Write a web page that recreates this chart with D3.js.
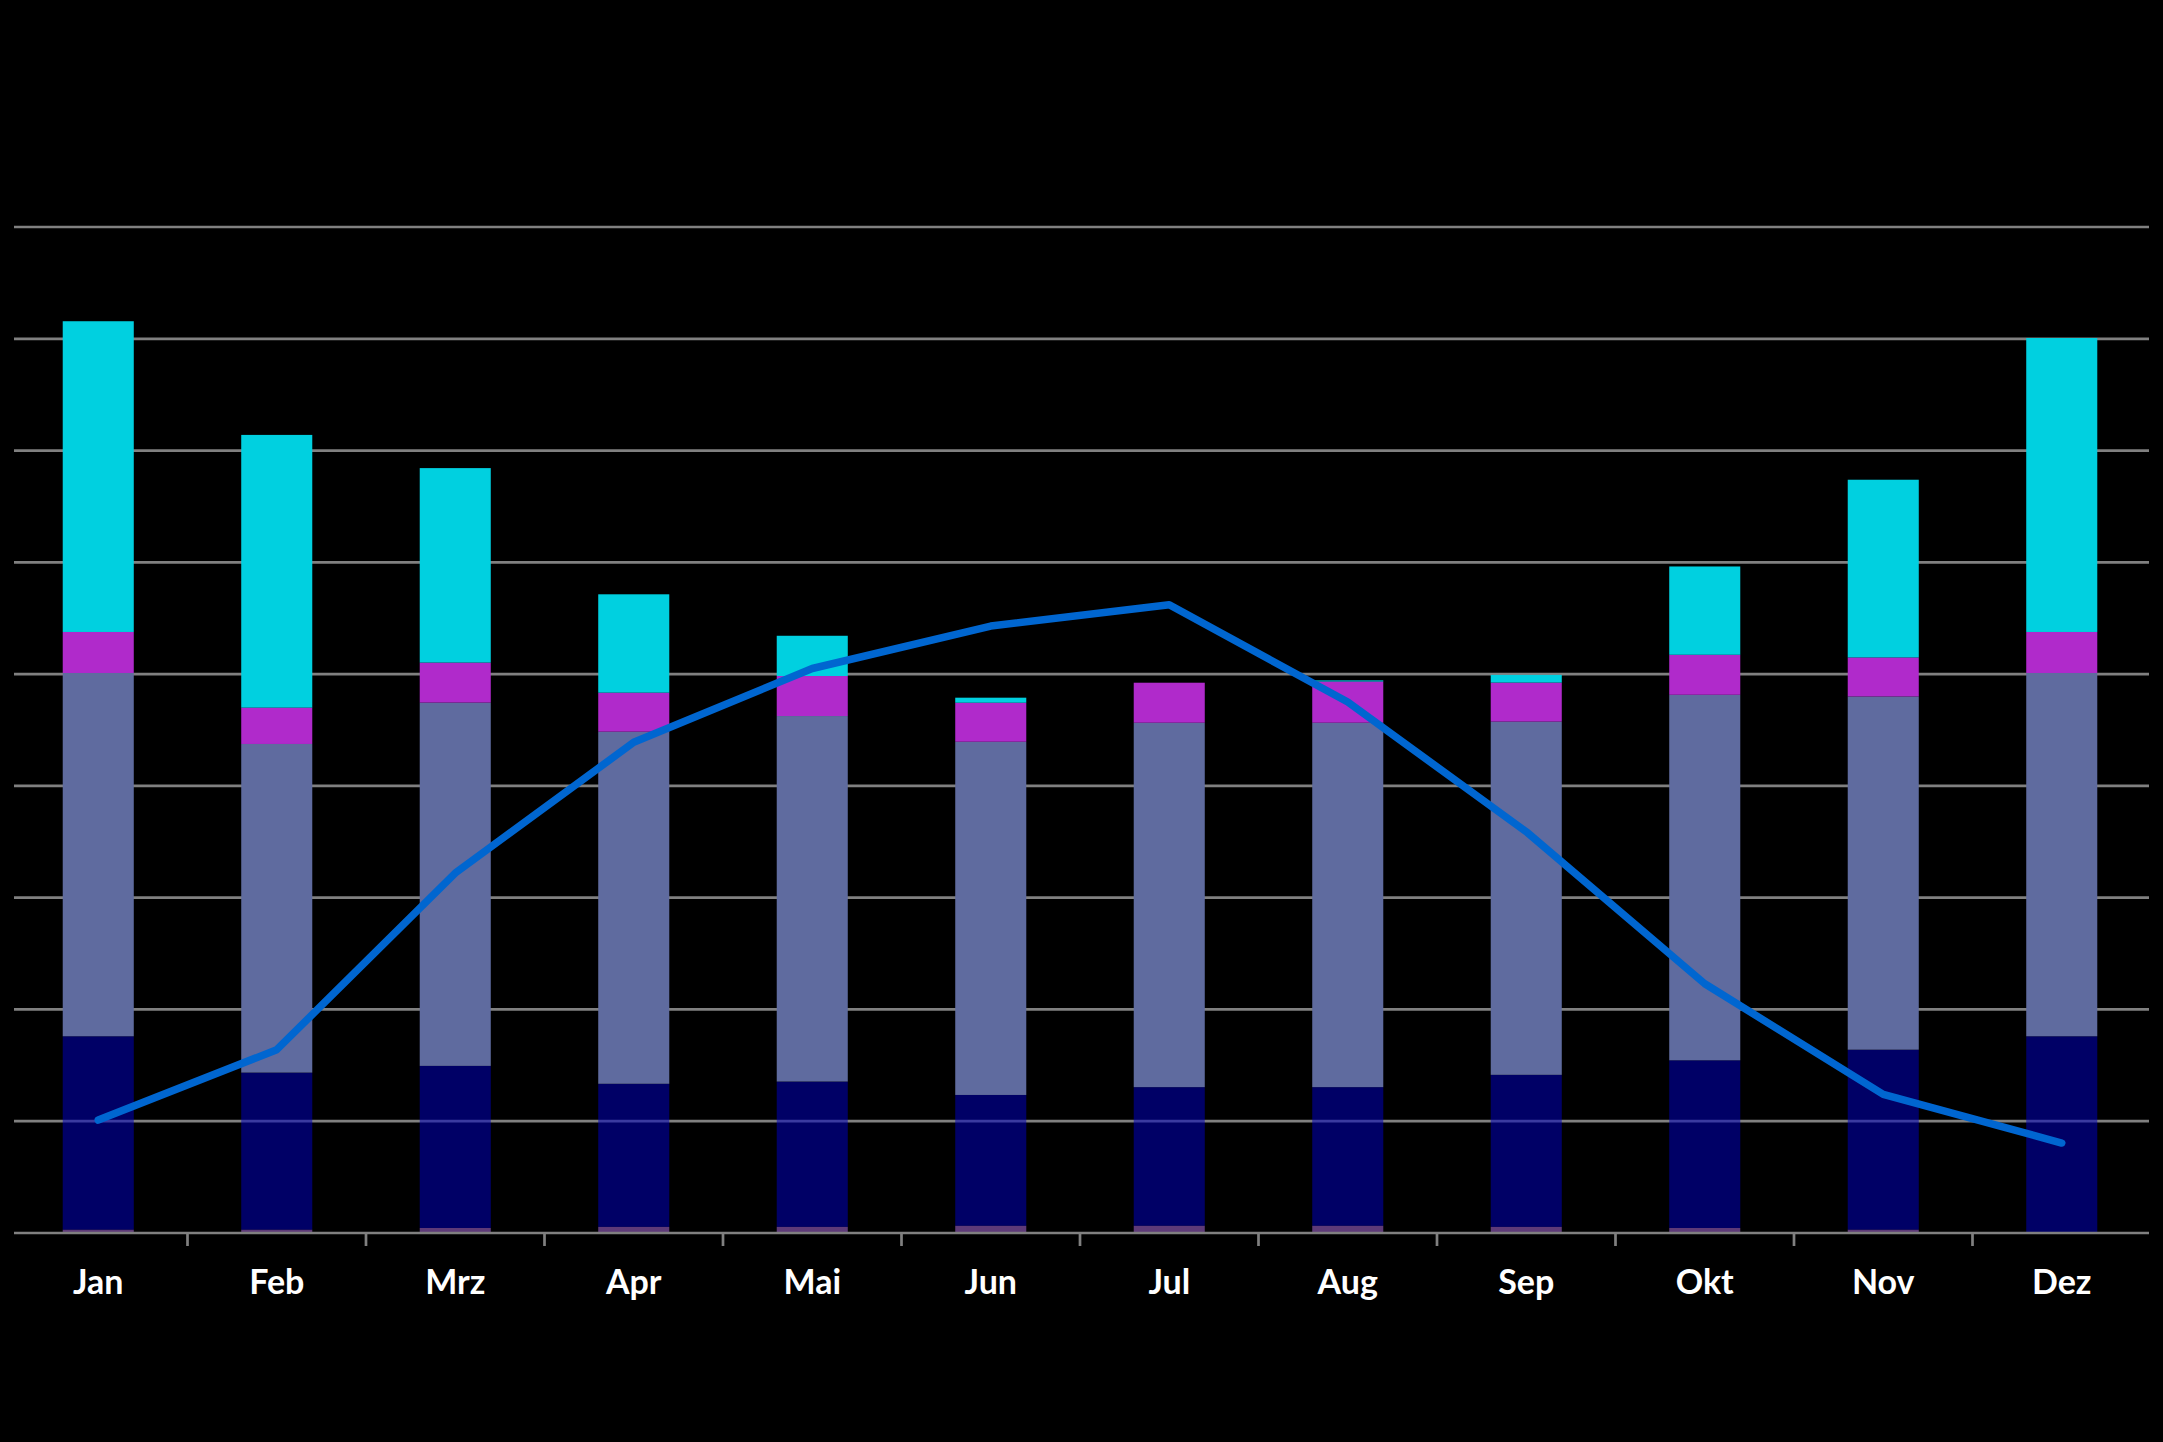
<!DOCTYPE html>
<html>
<head>
<meta charset="utf-8">
<script src="https://cdn.jsdelivr.net/npm/d3@7"></script>
<style>
    body { margin: 0; background: #000; }
    svg { display: block; }
</style>
</head>
<body>
<svg id="chart" width="2163" height="1442"></svg>
<script>
// months on the x axis
const months = ["Jan", "Feb", "Mrz", "Apr", "Mai", "Jun", "Jul", "Aug", "Sep", "Okt", "Nov", "Dez"];

// stacked bar series, bottom to top
const serBottom  = [0.3, 0.3, 0.45, 0.55, 0.55, 0.65, 0.65, 0.65, 0.55, 0.45, 0.3, 0];
const serNavy    = [17.3, 14.05, 14.5, 12.8, 13.0, 11.7, 12.4, 12.4, 13.6, 15.0, 16.1, 17.6];
const serSlate   = [32.5, 29.4, 32.5, 31.5, 32.7, 31.6, 32.6, 32.6, 31.6, 32.7, 31.6, 32.5];
const serMagenta = [3.67, 3.25, 3.58, 3.49, 3.58, 3.49, 3.58, 3.69, 3.49, 3.58, 3.49, 3.67];
const serCyan    = [27.8, 24.4, 17.4, 8.8, 3.6, 0.45, 0, 0.1, 0.69, 7.9, 15.9, 26.3];

// line series
const lineVals = [10.1, 16.4, 32.2, 43.9, 50.5, 54.3, 56.2, 47.5, 35.9, 22.3, 12.4, 8.05];

// gridline values
const gridVals = [10, 20, 30, 40, 50, 60, 70, 80, 90];

const keys = ["bottom", "navy", "slate", "magenta", "cyan"];
const colors = {
    bottom: "#5e3a78",
    navy: "rgba(0,0,185,0.55)",
    slate: "#5f6b9f",
    magenta: "#b02acb",
    cyan: "#00d0e0"
};

const rows = months.map((m, i) => ({
    month: m,
    bottom: serBottom[i],
    navy: serNavy[i],
    slate: serSlate[i],
    magenta: serMagenta[i],
    cyan: serCyan[i]
}));

const svg = d3.select("#chart");
const left = 9, right = 2151;
const gridLeft = 14, gridRight = 2149;

const x = d3.scaleBand()
    .domain(months)
    .range([left, right])
    .paddingInner(0.602)
    .paddingOuter(0.301);

const y = d3.scaleLinear()
    .domain([0, 90])
    .range([1233, 227]);

// gridlines (behind bars)
svg.append("g")
    .selectAll("line")
    .data(gridVals)
    .join("line")
    .attr("x1", gridLeft)
    .attr("x2", gridRight)
    .attr("y1", d => y(d))
    .attr("y2", d => y(d))
    .attr("stroke", "#808080")
    .attr("stroke-width", 2.7);

// stacked bars
const stacked = d3.stack().keys(keys)(rows);

svg.append("g")
    .selectAll("g")
    .data(stacked)
    .join("g")
    .attr("fill", d => colors[d.key])
    .selectAll("rect")
    .data(d => d)
    .join("rect")
    .attr("x", d => x(d.data.month))
    .attr("width", x.bandwidth())
    .attr("y", d => y(d[1]))
    .attr("height", d => y(d[0]) - y(d[1]));

// x axis line and ticks between categories
const step = x.step();
const gap = step - x.bandwidth();
svg.append("line")
    .attr("x1", gridLeft)
    .attr("x2", gridRight)
    .attr("y1", y(0))
    .attr("y2", y(0))
    .attr("stroke", "#808080")
    .attr("stroke-width", 2.7);

svg.append("g")
    .selectAll("line")
    .data(months.slice(1))
    .join("line")
    .attr("x1", d => x(d) - gap / 2)
    .attr("x2", d => x(d) - gap / 2)
    .attr("y1", y(0))
    .attr("y2", y(0) + 13)
    .attr("stroke", "#808080")
    .attr("stroke-width", 2.7);

// month labels
const xAxis = svg.append("g")
    .attr("transform", `translate(0, ${y(0)})`)
    .call(d3.axisBottom(x).tickSize(0).tickPadding(37));
xAxis.select(".domain").remove();
xAxis.selectAll("text")
    .attr("fill", "#fff")
    .attr("font-family", "Lato, 'Open Sans', sans-serif")
    .attr("font-weight", "bold")
    .attr("font-size", 34);

// line
const line = d3.line()
    .x((d, i) => x(months[i]) + x.bandwidth() / 2)
    .y(d => y(d));

svg.append("path")
    .datum(lineVals)
    .attr("fill", "none")
    .attr("stroke", "#0066d0")
    .attr("stroke-width", 7.5)
    .attr("stroke-linejoin", "round")
    .attr("stroke-linecap", "round")
    .attr("d", line);
</script>
</body>
</html>
